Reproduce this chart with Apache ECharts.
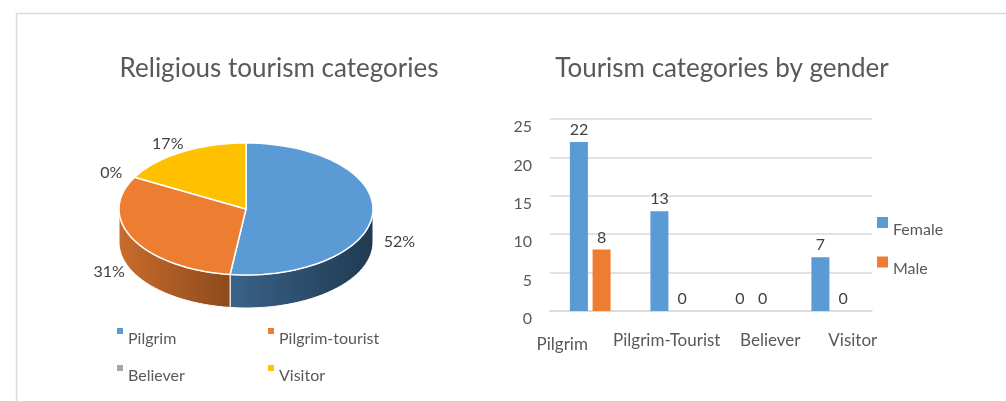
<!DOCTYPE html>
<html>
<head>
<meta charset="utf-8">
<script src="https://cdn.jsdelivr.net/npm/echarts@6/dist/echarts.min.js"></script>
<style>
  html, body { margin: 0; padding: 0; background: #fff; }
  #chart { width: 1006px; height: 401px; }
</style>
</head>
<body>
<div id="chart"></div>
<script>
// pie: share of each religious tourism category (percent)
const pieNames = ['Pilgrim', 'Pilgrim-tourist', 'Believer', 'Visitor'];
const pieValues = [52, 31, 0, 17];

// bars: counts by gender
const barCategories = ['Pilgrim', 'Pilgrim-Tourist', 'Believer', 'Visitor'];
const femaleValues = [22, 13, 0, 7];
const maleValues = [8, 0, 0, 0];
const yTicks = [0, 5, 10, 15, 20, 25];

const pieColors = ['#5b9bd5', '#ed7d31', '#a5a5a5', '#ffc000'];
const sideColors = [['#3a6289', '#203a51'], ['#c96c2b', '#8c4a1d'], ['#8a8a8a', '#6a6a6a'], ['#d9a300', '#a77c00']];
const geo = { cx: 246, cy: 209, rx: 127, ry: 66, depth: 33 };
const FONT = 'Lato, "Open Sans", sans-serif';
// the source nudges its category labels sideways a little: [dx, dy] per label
const xLabelNudge = [[-28, 4], [-4, 0], [19, 0], [21, 0]];

var chartDom = document.getElementById('chart');
var myChart = echarts.init(chartDom);

const pieTotal = pieValues.reduce((a, b) => a + b, 0);

// clock angle in degrees (0 = 12 o'clock, clockwise) -> point on top ellipse
function ellPt(a) {
  const r = a * Math.PI / 180;
  return [geo.cx + geo.rx * Math.sin(r), geo.cy - geo.ry * Math.cos(r)];
}

function arcPts(a0, a1) {
  const pts = [];
  const n = Math.max(2, Math.ceil((a1 - a0) / 3));
  for (let i = 0; i <= n; i++) pts.push(ellPt(a0 + (a1 - a0) * i / n));
  return pts;
}

function renderSlice(params, api) {
  const idx = params.seriesIndex;
  const start = api.value(0) / pieTotal * 360;
  const end = (api.value(0) + api.value(1)) / pieTotal * 360;
  const children = [];
  // front side wall
  const s0 = Math.max(start, 90), s1 = Math.min(end, 270);
  if (s1 > s0) {
    const top = arcPts(s0, s1);
    const bot = top.map(p => [p[0], p[1] + geo.depth]).reverse();
    children.push({
      type: 'polygon',
      shape: { points: top.concat(bot) },
      style: {
        fill: new echarts.graphic.LinearGradient(0, 0, 1, 0, [
          { offset: 0, color: sideColors[idx][0] },
          { offset: 1, color: sideColors[idx][1] }
        ]),
        stroke: '#fff', lineWidth: 1
      }
    });
  }
  // top face
  if (end > start) {
    children.push({
      type: 'polygon',
      shape: { points: [[geo.cx, geo.cy]].concat(arcPts(start, end)) },
      style: { fill: pieColors[idx], stroke: '#fff', lineWidth: 1.5, lineJoin: 'round' }
    });
  }
  // percentage label
  const mid = (start + end) / 2 * Math.PI / 180;
  const c = Math.cos(mid);
  const lx = geo.cx + geo.rx * 1.21 * Math.sin(mid);
  const ly = geo.cy - geo.ry * 1.15 * c + (c < 0 ? geo.depth * 0.85 : 0);
  children.push({
    type: 'text', x: lx, y: ly,
    style: {
      text: Math.round(api.value(1) / pieTotal * 100) + '%',
      fill: '#404040', font: '16px ' + FONT,
      align: 'center', verticalAlign: 'middle'
    }
  });
  return { type: 'group', children: children };
}

let acc = 0;
const pieSeries = pieNames.map((name, i) => {
  const s = {
    name: name,
    type: 'custom',
    coordinateSystem: 'none',
    itemStyle: { color: pieColors[i] },
    dimensions: ['start', 'value'],
    data: [[acc, pieValues[i]]],
    renderItem: renderSlice,
    silent: true
  };
  acc += pieValues[i];
  return s;
});

const valueLabel = {
  show: true, position: 'top', distance: 4,
  color: '#404040', fontSize: 16, fontFamily: FONT
};

// legend text sits lower than its square marker
function legendText(drop) {
  return {
    color: '#595959', fontSize: 16,
    rich: { t: { color: '#595959', fontSize: 16, fontFamily: FONT, padding: [drop, 0, 0, 0] } }
  };
}

const xRich = {};
xLabelNudge.forEach((d, i) => {
  xRich['c' + i] = {
    color: '#595959', fontSize: 17, fontFamily: FONT,
    padding: [d[1], Math.max(0, -2 * d[0]), 0, Math.max(0, 2 * d[0])]
  };
});

var option = {
  animation: false,
  textStyle: { fontFamily: FONT },
  graphic: [{
    type: 'polyline',
    shape: { points: [[16.5, 401], [16.5, 13.5], [1006, 13.5]] },
    style: { stroke: '#d9d9d9', lineWidth: 1.5, fill: null }
  }],
  title: [
    {
      text: 'Religious tourism categories',
      left: 274, top: 51, textAlign: 'center',
      textStyle: { color: '#595959', fontSize: 26, fontWeight: 'normal', fontFamily: FONT }
    },
    {
      text: 'Tourism categories by gender',
      left: 717, top: 51, textAlign: 'center',
      textStyle: { color: '#595959', fontSize: 26, fontWeight: 'normal', fontFamily: FONT }
    }
  ],
  legend: [
    {
      data: ['Pilgrim', 'Believer'],
      orient: 'vertical', left: 112, top: 323,
      icon: 'rect', itemWidth: 6, itemHeight: 6, itemGap: 18,
      selectedMode: false, formatter: '{t|{name}}',
      textStyle: legendText(16)
    },
    {
      data: ['Pilgrim-tourist', 'Visitor'],
      orient: 'vertical', left: 263, top: 323,
      icon: 'rect', itemWidth: 6, itemHeight: 6, itemGap: 18,
      selectedMode: false, formatter: '{t|{name}}',
      textStyle: legendText(16)
    },
    {
      data: ['Female', 'Male'],
      orient: 'vertical', left: 872, top: 212,
      icon: 'rect', itemWidth: 11, itemHeight: 11, itemGap: 19,
      selectedMode: false, formatter: '{t|{name}}',
      textStyle: legendText(14)
    }
  ],
  grid: { left: 550, right: 134, top: 119, bottom: 90 },
  xAxis: {
    type: 'category',
    data: barCategories,
    axisLine: { lineStyle: { color: '#d9d9d9', width: 1.5 } },
    axisTick: { show: false },
    axisLabel: {
      color: '#595959', fontSize: 17, margin: 21, interval: 0,
      formatter: (v, i) => '{c' + i + '|' + v + '}',
      rich: xRich
    }
  },
  yAxis: {
    type: 'value',
    min: yTicks[0], max: yTicks[yTicks.length - 1], interval: yTicks[1] - yTicks[0],
    axisLine: { show: false },
    axisTick: { show: false },
    axisLabel: { color: '#595959', fontSize: 16, margin: 18, verticalAlign: 'top' },
    splitLine: { lineStyle: { color: '#d9d9d9', width: 1.5 } }
  },
  series: pieSeries.concat([
    {
      name: 'Female', type: 'bar', data: femaleValues,
      barWidth: 18, barGap: '26%',
      itemStyle: { color: '#5b9bd5' },
      label: valueLabel
    },
    {
      name: 'Male', type: 'bar', data: maleValues,
      barWidth: 18,
      itemStyle: { color: '#ed7d31' },
      label: valueLabel
    }
  ])
};

option && myChart.setOption(option);
</script>
</body>
</html>
